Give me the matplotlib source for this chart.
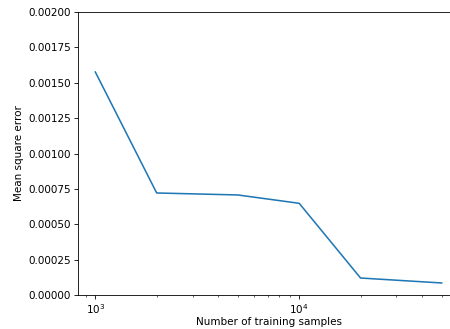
import numpy as np
import matplotlib
matplotlib.use('Agg')
import matplotlib.pyplot as plt

# training set sizes and the test error of the fitted model
n_samples = [1000, 2000, 5000, 10000, 20000, 50000]
mse = [0.001576, 0.000721, 0.000707, 0.000648, 0.000120, 0.000085]

dpi = 75
fig = plt.figure(figsize=(450 / dpi, 329 / dpi), dpi=dpi)
ax = fig.add_axes([78 / 450, 34 / 329, 381 / 450, 283 / 329])

ax.plot(n_samples, mse)
ax.set_xscale('log')
ax.set_ylim(0, 0.002)
ax.set_xlabel('Number of training samples', labelpad=1)
ax.set_ylabel('Mean square error')

fig.savefig('out.png', dpi=dpi)
